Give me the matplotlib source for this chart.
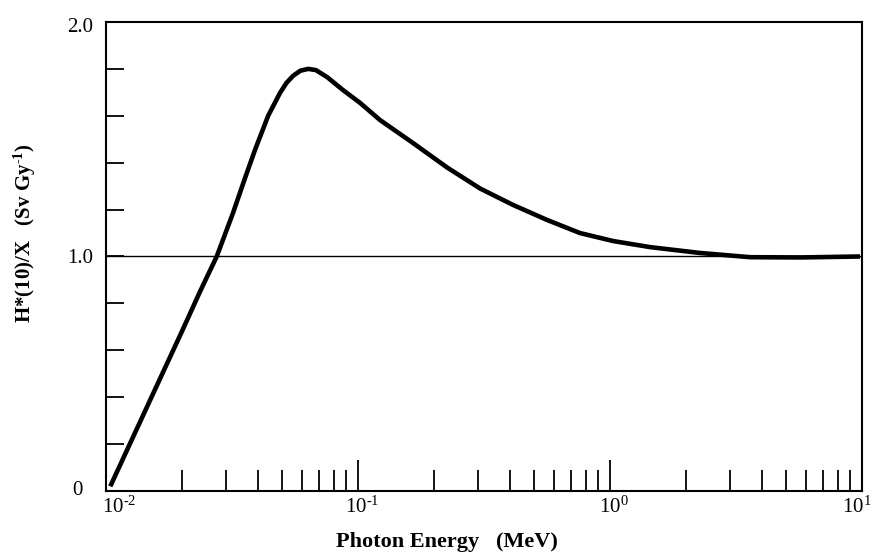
import matplotlib
matplotlib.use("Agg")
import matplotlib.pyplot as plt
import matplotlib.transforms as mtransforms
from matplotlib.ticker import FixedLocator, NullFormatter, LogLocator

plt.rcParams['font.family'] = ['Liberation Serif', 'DejaVu Serif']
plt.rcParams['mathtext.fontset'] = 'custom'
plt.rcParams['mathtext.rm'] = 'Liberation Serif'
plt.rcParams['mathtext.it'] = 'Liberation Serif:italic'
plt.rcParams['mathtext.bf'] = 'Liberation Serif:bold'

# Photon energy (MeV) and H*(10)/X (Sv/Gy)
energy = [0.0104, 0.0150, 0.0200, 0.0236, 0.0275, 0.0319, 0.0355, 0.0390, 0.0440,
          0.0490, 0.0520, 0.0552, 0.0590, 0.0634, 0.0680, 0.0754, 0.0871, 0.1019,
          0.1222, 0.1652, 0.2254, 0.305, 0.412, 0.562, 0.760, 1.028, 1.442,
          2.276, 3.60, 5.68, 9.82]
h10_x = [0.02, 0.39, 0.68, 0.85, 1.00, 1.185, 1.33, 1.454, 1.60,
         1.697, 1.74, 1.770, 1.792, 1.800, 1.795, 1.765, 1.710, 1.655,
         1.582, 1.484, 1.380, 1.290, 1.220, 1.156, 1.100, 1.066, 1.040,
         1.015, 0.997, 0.996, 1.000]

y_ticks = [0, 0.2, 0.4, 0.6, 0.8, 1.0, 1.2, 1.4, 1.6, 1.8, 2.0]
y_labels = ['0', '', '', '', '', '1.0', '', '', '', '', '2.0']
x_major = [0.01, 0.1, 1.0, 10.0]
x_labels = ['$\\mathrm{10^{\u2010 2}}$', '$\\mathrm{10^{\u2010 1}}$',
            '$\\mathrm{10^{0}}$', '$\\mathrm{10^{1}}$']

fig = plt.figure(figsize=(8.71, 5.55), dpi=100)
ax = fig.add_axes([0.1217, 0.1153, 0.8680, 0.8451])

ax.plot(energy, h10_x, color='black', lw=3.3, solid_capstyle='butt',
        solid_joinstyle='round')
ax.axhline(1.0, color='black', lw=1.0)

ax.set_xscale('log')
ax.set_xlim(0.01, 10)
ax.set_ylim(0, 2.0)

ax.xaxis.set_major_locator(FixedLocator(x_major))
ax.set_xticklabels(x_labels)
ax.xaxis.set_minor_locator(LogLocator(base=10, subs=[2, 3, 4, 5, 6, 7, 8, 9]))
ax.xaxis.set_minor_formatter(NullFormatter())
ax.set_yticks(y_ticks)
ax.set_yticklabels(y_labels)

ax.tick_params(axis='x', which='major', direction='in', length=22, width=1.3,
               labelsize=15, pad=4, top=False)
ax.tick_params(axis='x', which='minor', direction='in', length=15, width=1.3, top=False)
ax.tick_params(axis='y', which='major', direction='in', length=13, width=1.3,
               labelsize=15, pad=9, right=False)

for s in ax.spines.values():
    s.set_linewidth(1.5)

# small label offsets as in the reference
x_offsets = [(9.5, 0), (3.0, 0), (3.0, 0), (-4.0, 0)]
for lab, (dx, dy) in zip(ax.get_xticklabels(), x_offsets):
    lab.set_transform(lab.get_transform() +
                      mtransforms.ScaledTranslation(dx / 72, dy / 72, fig.dpi_scale_trans))
y_offsets = {0: (-8.0, 2.0), 10: (0.0, -2.0)}
for i, lab in enumerate(ax.get_yticklabels()):
    if i in y_offsets:
        dx, dy = y_offsets[i]
        lab.set_transform(lab.get_transform() +
                          mtransforms.ScaledTranslation(dx / 72, dy / 72, fig.dpi_scale_trans))

ax.set_xlabel('Photon Energy   (MeV)', fontsize=16, fontweight='bold')
ax.xaxis.set_label_coords(0.451, -0.088)
ax.set_ylabel('H*(10)/X   (Sv Gy$\\mathbf{^{\u2010 1}}$)', fontsize=15, fontweight='bold')
ax.yaxis.set_label_coords(-0.09, 0.55)

fig.savefig('out.png', dpi=100)
